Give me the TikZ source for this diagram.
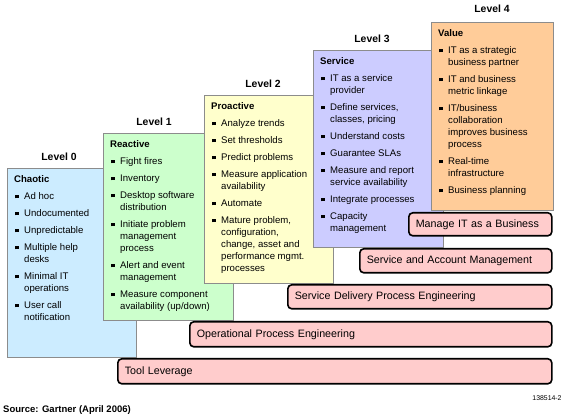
\documentclass[tikz,border=0pt]{standalone}
\usepackage{fontspec}
\setmainfont{Liberation Sans}
\definecolor{lvblue}{HTML}{CCECFF}
\definecolor{lvgreen}{HTML}{CCFFCC}
\definecolor{lvyellow}{HTML}{FFFFCC}
\definecolor{lvpurple}{HTML}{CCCCFF}
\definecolor{lvorange}{HTML}{FFCC99}
\definecolor{barpink}{HTML}{FFCCCC}
\definecolor{boxgray}{HTML}{8C8C8C}
\newcommand\bi{\makebox[10pt][l]{\hspace{1pt}\rule[1.3pt]{3.4pt}{3.4pt}}}
\newcommand\ttl[1]{\multicolumn{2}{@{}l@{}}{\textbf{#1}}}
\tikzset{
  lvbox/.style={draw=boxgray, line width=0.8pt, anchor=north west, inner sep=0pt},
  listtext/.style={anchor=north west, inner sep=0pt, font=\fontsize{9.6}{12}\selectfont},
  lvlabel/.style={font=\bfseries\fontsize{10.4}{12}\selectfont},
  bar/.style={draw=black, line width=1.6pt, rounded corners=4pt, fill=barpink, anchor=north west, inner xsep=7pt, inner ysep=0pt, align=left, font=\fontsize{10.7}{12}\selectfont},
}
\begin{document}
\begin{tikzpicture}[x=1pt,y=-1pt]
\useasboundingbox (0,0) rectangle (565,419);
% Level 0
\node[lvbox, fill=lvblue, minimum width=129pt, minimum height=189pt] (b0) at (7,168) {};
\node[listtext] (t0) at ([shift={(7,6.2)}]b0.north west) {\begin{tabular}{@{}l@{}l@{}}
\ttl{Chaotic}\\[5pt]
\bi & Ad hoc\\[5pt]
\bi & Undocumented\\[5pt]
\bi & Unpredictable\\[5pt]
\bi & Multiple help\\ & desks\\[5pt]
\bi & Minimal IT\\ & operations\\[5pt]
\bi & User call\\ & notification
\end{tabular}};
\node[lvlabel] (l0) at (59,157) {Level 0};
% Level 1
\node[lvbox, fill=lvgreen, minimum width=130pt, minimum height=187pt] (b1) at (103,133) {};
\node[listtext] (t1) at ([shift={(7,6.2)}]b1.north west) {\begin{tabular}{@{}l@{}l@{}}
\ttl{Reactive}\\[5pt]
\bi & Fight fires\\[5pt]
\bi & Inventory\\[5pt]
\bi & Desktop software\\ & distribution\\[5pt]
\bi & Initiate problem\\ & management\\ & process\\[5pt]
\bi & Alert and event\\ & management\\[5pt]
\bi & Measure component\\ & availability (up/down)
\end{tabular}};
\node[lvlabel] (l1) at (154,122) {Level 1};
% Level 2
\node[lvbox, fill=lvyellow, minimum width=129pt, minimum height=188pt] (b2) at (204,95) {};
\node[listtext] (t2) at ([shift={(7,6.2)}]b2.north west) {\begin{tabular}{@{}l@{}l@{}}
\ttl{Proactive}\\[5pt]
\bi & Analyze trends\\[5pt]
\bi & Set thresholds\\[5pt]
\bi & Predict problems\\[5pt]
\bi & Measure application\\ & availability\\[5pt]
\bi & Automate\\[5pt]
\bi & Mature problem,\\ & configuration,\\ & change, asset and\\ & performance mgmt.\\ & processes
\end{tabular}};
\node[lvlabel] (l2) at (263,84) {Level 2};
% Level 3
\node[lvbox, fill=lvpurple, minimum width=130pt, minimum height=197pt] (b3) at (313,50) {};
\node[listtext] (t3) at ([shift={(7,6.2)}]b3.north west) {\begin{tabular}{@{}l@{}l@{}}
\ttl{Service}\\[5pt]
\bi & IT as a service\\ & provider\\[5pt]
\bi & Define services,\\ & classes, pricing\\[5pt]
\bi & Understand costs\\[5pt]
\bi & Guarantee SLAs\\[5pt]
\bi & Measure and report\\ & service availability\\[5pt]
\bi & Integrate processes\\[5pt]
\bi & Capacity\\ & management
\end{tabular}};
\node[lvlabel] (l3) at (372,39) {Level 3};
% Level 4
\node[lvbox, fill=lvorange, minimum width=122pt, minimum height=188pt] (b4) at (431,22) {};
\node[listtext] (t4) at ([shift={(7,6.2)}]b4.north west) {\begin{tabular}{@{}l@{}l@{}}
\ttl{Value}\\[5pt]
\bi & IT as a strategic\\ & business partner\\[5pt]
\bi & IT and business\\ & metric linkage\\[5pt]
\bi & IT/business\\ & collaboration\\ & improves business\\ & process\\[5pt]
\bi & Real-time\\ & infrastructure\\[5pt]
\bi & Business planning
\end{tabular}};
\node[lvlabel] (l4) at (492,9) {Level 4};
% Bars
\node[bar, text width=129pt, minimum height=23pt] (m1) at (408,212) {Manage IT as a Business};
\node[bar, text width=178pt, minimum height=24pt] (m2) at (359,248) {Service and Account Management};
\node[bar, text width=250pt, minimum height=24pt] (m3) at (287,284) {Service Delivery Process Engineering};
\node[bar, text width=348pt, minimum height=25pt] (m4) at (189,321) {Operational Process Engineering};
\node[bar, text width=420pt, minimum height=25pt] (m5) at (117,358) {Tool Leverage};
% Footer
\node[anchor=west, inner sep=0pt, font=\bfseries\fontsize{9.5}{11}\selectfont] (src) at (3,410) {Source: Gartner (April 2006)};
\node[inner sep=0pt, font=\fontsize{6.9}{8}\selectfont] (fig) at (547,398) {138514-2};
\end{tikzpicture}
\end{document}
